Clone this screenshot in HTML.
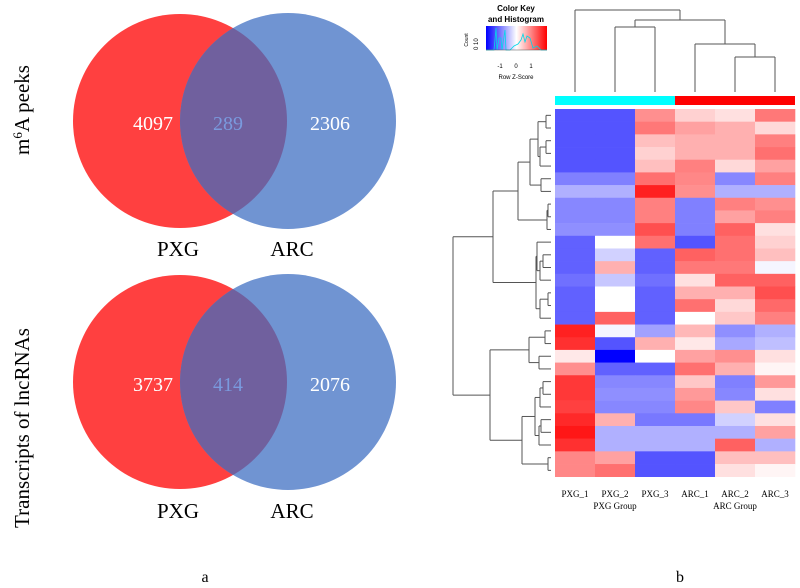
<!DOCTYPE html>
<html><head><meta charset="utf-8"><style>
body{margin:0;background:#fff;}
svg{display:block;font-family:"Liberation Serif",serif;}
</style></head><body>
<svg id="fig" width="800" height="588" viewBox="0 0 800 588">
<defs>
<clipPath id="c1"><circle cx="180" cy="121" r="107"/></clipPath>
<clipPath id="c2"><circle cx="180" cy="382" r="107"/></clipPath>
<linearGradient id="kg" x1="0" x2="1" y1="0" y2="0">
<stop offset="0" stop-color="#0000ff"/><stop offset="0.5" stop-color="#ffffff"/><stop offset="1" stop-color="#ff0000"/>
</linearGradient>
</defs>
<g>
<circle cx="180" cy="121" r="107" fill="#ff4040"/>
<circle cx="288" cy="121" r="108" fill="#7094d2"/>
<circle cx="288" cy="121" r="108" fill="#70609e" clip-path="url(#c1)"/>
<text x="153" y="130" font-size="20" fill="#fff" text-anchor="middle">4097</text>
<text x="228" y="130" font-size="20" fill="#7a9ade" text-anchor="middle">289</text>
<text x="330" y="130" font-size="20" fill="#fff" text-anchor="middle">2306</text>
<text x="178" y="256" font-size="21" text-anchor="middle">PXG</text>
<text x="292" y="256" font-size="21" text-anchor="middle">ARC</text>
<text transform="translate(29,110) rotate(-90)" font-size="21" text-anchor="middle">m<tspan font-size="13" dy="-7">6</tspan><tspan dy="7">A peeks</tspan></text>
</g>
<g>
<circle cx="180" cy="382" r="107" fill="#ff4040"/>
<circle cx="288" cy="382" r="108" fill="#7094d2"/>
<circle cx="288" cy="382" r="108" fill="#70609e" clip-path="url(#c2)"/>
<text x="153" y="391" font-size="20" fill="#fff" text-anchor="middle">3737</text>
<text x="228" y="391" font-size="20" fill="#7a9ade" text-anchor="middle">414</text>
<text x="330" y="391" font-size="20" fill="#fff" text-anchor="middle">2076</text>
<text x="178" y="518" font-size="21" text-anchor="middle">PXG</text>
<text x="292" y="518" font-size="21" text-anchor="middle">ARC</text>
<text transform="translate(29,428) rotate(-90)" font-size="21" text-anchor="middle">Transcripts of lncRNAs</text>
</g>
<text x="205" y="582" font-size="16" text-anchor="middle">a</text>
<text x="680" y="582" font-size="16" text-anchor="middle">b</text>
<g font-family="Liberation Sans, sans-serif">
<text x="516" y="11" font-size="8" font-weight="bold" text-anchor="middle">Color Key</text>
<text x="516" y="22" font-size="8" font-weight="bold" text-anchor="middle">and Histogram</text>
<rect x="486" y="26" width="61" height="24" fill="url(#kg)"/>
<polyline fill="none" stroke="#00d8e8" stroke-width="0.8" points="486,50 494,50 496,28 497,50 499,38 501,38 502,50 505,30 506,50 510,50 514,46 518,44 521,40 523,34 525,42 527,36 530,38 533,48 537,46 541,50 547,50"/>
<line x1="486" y1="50" x2="547" y2="50" stroke="#555" stroke-width="0.6"/>
<text x="500" y="68" font-size="6" text-anchor="middle">-1</text>
<text x="516" y="68" font-size="6" text-anchor="middle">0</text>
<text x="531" y="68" font-size="6" text-anchor="middle">1</text>
<text x="516" y="79" font-size="6" text-anchor="middle">Row Z-Score</text>
<text transform="translate(468,40) rotate(-90)" font-size="5" text-anchor="middle">Count</text>
<text transform="translate(478,50) rotate(-90)" font-size="6">0  10</text>
</g>
<rect x="555" y="96" width="120" height="9" fill="#00ffff"/>
<rect x="675" y="96" width="120" height="9" fill="#ff0000"/>
<g id="heat"></g>
<g id="rowd" stroke="#555" stroke-width="1" fill="none"></g>
<g id="cold" stroke="#555" stroke-width="1" fill="none"></g>
<g id="xlab" font-size="9"></g>
<text x="615" y="509" font-size="9" text-anchor="middle">PXG Group</text>
<text x="735" y="509" font-size="9" text-anchor="middle">ARC Group</text>
</svg>
<script>
const samples=["PXG_1","PXG_2","PXG_3","ARC_1","ARC_2","ARC_3"];
const zRows=[
[-.67,-.67,.44,.18,.12,.53],
[-.67,-.67,.53,.37,.31,.15],
[-.67,-.67,.25,.31,.31,.5],
[-.67,-.67,.18,.31,.31,.56],
[-.67,-.67,.25,.5,.15,.37],
[-.5,-.5,.56,.47,-.47,.5],
[-.31,-.31,.87,.44,-.31,-.31],
[-.47,-.47,.5,-.5,.5,.44],
[-.47,-.47,.5,-.5,.37,.5],
[-.44,-.44,.69,-.5,.62,.12],
[-.62,0,.56,-.67,.56,.18],
[-.62,-.18,-.62,.62,.56,.25],
[-.62,.31,-.62,.53,.53,-.04],
[-.56,-.22,-.56,.12,.62,.62],
[-.62,0,-.62,.31,.31,.69],
[-.62,0,-.62,.56,.15,.59],
[-.62,.62,-.62,0,.22,.5],
[.87,-.04,-.37,.28,-.44,-.31],
[.81,-.67,.31,.09,-.34,-.25],
[.09,-1,0,.37,.44,.12],
[.44,-.62,-.62,.56,.31,.04],
[.78,-.47,-.47,.22,-.5,.4],
[.78,-.44,-.44,.4,-.47,.12],
[.75,-.47,-.47,.47,.22,-.5],
[.84,.31,-.53,-.53,-.18,.12],
[.91,-.31,-.31,-.31,-.31,.37],
[.81,-.31,-.31,-.31,.62,-.31],
[.47,.37,-.67,-.67,.25,.25],
[.47,.56,-.67,-.67,.12,.04]
];
const NS="http://www.w3.org/2000/svg";
const X0=555,CW=40,Y0=109,RH=(476.7-109)/29;
const xS=i=>X0+i*CW, yS=r=>Y0+r*RH;
function col(v){const c=Math.round(255*(1-Math.abs(v)));return v<0?`rgb(${c},${c},255)`:`rgb(255,${c},${c})`;}
const heat=document.getElementById('heat');
zRows.forEach((row,r)=>row.forEach((v,i)=>{
 const el=document.createElementNS(NS,'rect');
 el.setAttribute('x',xS(i));el.setAttribute('y',yS(r));
 el.setAttribute('width',CW+0.3);el.setAttribute('height',RH+0.3);
 el.setAttribute('fill',col(v));
 
 
 heat.appendChild(el);
}));
const xl=document.getElementById('xlab');
samples.forEach((s,i)=>{const t=document.createElementNS(NS,'text');
 t.setAttribute('x',xS(i)+CW/2);t.setAttribute('y',497);t.setAttribute('text-anchor','middle');t.textContent=s;
 
 
 xl.appendChild(t);});
function line(g,x1,y1,x2,y2){const l=document.createElementNS(NS,'line');
 l.setAttribute('x1',x1);l.setAttribute('y1',y1);l.setAttribute('x2',x2);l.setAttribute('y2',y2);
 
 
 g.appendChild(l);}
const rowTree=[[[[[[0,1,546],[[2,3,546],4,540],538],[5,6,541],530],[[7,8,548],9,547],518],[[10,[[11,12,543],13,540],537],[[14,15,548],16,540],536],493],[[[17,18,545],[19,20,539],529],[[[[21,22,543],23,540],[[24,25,541],26,539],535],[27,28,548],522],490],453];
const rg=document.getElementById('rowd');
function drawR(n){if(typeof n==='number')return{p:yS(n)+RH/2,h:551};
 const a=drawR(n[0]),b=drawR(n[1]),h=n[2];
 line(rg,h,a.p,a.h,a.p);line(rg,h,b.p,b.h,b.p);line(rg,h,a.p,h,b.p);return{p:(a.p+b.p)/2,h:h};}
drawR(rowTree);
const colTree=[0,[[1,2,27],[3,[4,5,57],44],20],10];
const cg=document.getElementById('cold');
function drawC(n){if(typeof n==='number')return{p:xS(n)+CW/2,h:92};
 const a=drawC(n[0]),b=drawC(n[1]),h=n[2];
 line(cg,a.p,h,a.p,a.h);line(cg,b.p,h,b.p,b.h);line(cg,a.p,h,b.p,h);return{p:(a.p+b.p)/2,h:h};}
drawC(colTree);
</script>
</body></html>
